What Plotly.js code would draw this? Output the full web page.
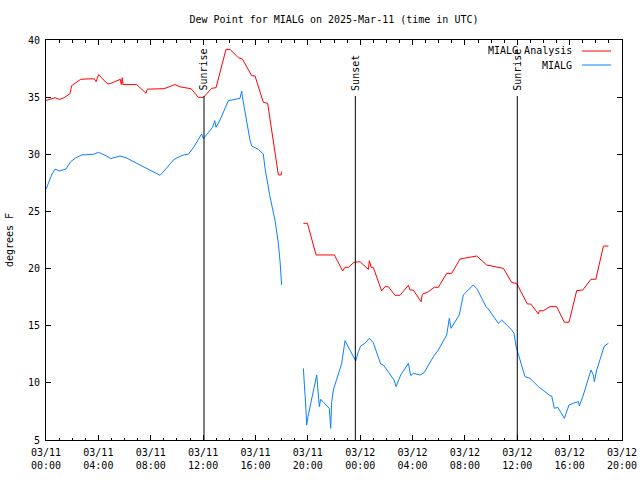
<!DOCTYPE html>
<html>
<head>
<meta charset="utf-8">
<script src="https://cdn.plot.ly/plotly-3.0.1.min.js"></script>
<style>html,body{margin:0;padding:0;background:#fff;}#chart{width:640px;height:480px;}</style>
</head>
<body>
<div id="chart"></div>
<script>
// ---- data (hours after 2025-03-11 00:00 UTC; null = gap) ----
var seriesNames = ["MIALG Analysis", "MIALG"];
var seriesColors = ["#ff0000", "#0a80ff"];

var analysisHours = [0.0,0.44,0.69,1.02,1.38,1.83,1.96,2.29,2.65,3.36,3.69,3.82,4.02,4.28,4.71,4.94,5.40,5.68,5.75,5.83,5.88,6.93,7.64,7.74,9.01,9.85,10.24,11.08,11.64,12.02,12.66,12.99,13.75,14.06,14.69,15.0,15.71,15.97,16.6,16.93,17.75,17.95,18.0,
  18.8,
  19.66,19.97,20.63,22.03,22.66,22.84,23.1,23.53,23.99,24.63,24.7,24.83,25.0,25.64,25.9,26.15,26.66,27.04,27.68,27.81,28.06,28.65,28.75,29.21,29.66,29.97,30.61,30.99,31.63,32.01,32.52,32.9,33.67,34.05,34.48,34.94,35.58,35.95,36.77,37.03,37.61,37.69,37.99,38.5,39.01,39.6,39.95,40.54,41.0,41.63,42.0,42.58,42.96];
var analysisValues = [34.7,34.9,34.95,34.8,34.95,35.3,36.0,36.27,36.56,36.6,36.6,36.35,36.97,36.65,36.15,36.2,36.45,36.56,36.1,36.7,36.1,36.1,35.34,35.7,35.74,36.1,35.9,35.74,34.98,34.98,35.77,35.83,39.18,39.18,38.45,38.34,36.88,36.85,34.55,34.46,28.19,28.19,28.48,
  null,
  23.96,23.96,21.19,21.19,19.79,20.11,20.11,20.55,20.6,19.93,20.69,20.11,20.11,18.04,18.42,18.42,17.66,17.66,18.54,18.12,18.12,17.1,17.75,17.98,18.36,18.36,19.58,19.58,20.84,20.9,21.04,21.1,20.31,20.22,20.08,20.02,18.77,18.71,16.9,16.9,16.03,16.31,16.31,16.67,16.67,15.3,15.3,18.07,18.12,19.06,19.06,21.97,21.97];

var stationHours = [0.0,0.43,0.69,1.02,1.53,1.88,2.29,2.72,3.62,4.02,4.63,4.94,5.65,6.11,6.93,7.94,8.71,9.09,9.73,10.03,10.49,10.87,11.31,11.89,12.02,12.73,12.89,12.99,13.29,13.93,14.57,14.82,14.95,15.0,15.58,15.71,16.22,16.6,16.73,17.11,17.49,17.75,17.88,18.0,
  18.8,
  19.66,19.73,19.86,19.91,20.04,20.68,20.88,20.98,21.64,21.75,21.82,21.95,22.59,22.84,23.17,23.66,23.86,24.04,24.37,24.7,25.0,25.57,25.77,26.23,26.59,26.74,27.1,27.68,27.86,28.06,28.57,28.88,29.59,29.97,30.61,30.81,30.94,31.57,31.88,32.64,32.9,33.61,33.79,34.55,34.81,35.58,35.75,35.91,36.16,36.59,36.97,37.61,38.5,38.63,38.83,39.09,39.6,39.95,40.41,40.67,40.74,41.05,41.63,41.81,41.89,42.07,42.65,42.96];
var stationValues = [26.94,28.19,28.71,28.54,28.71,29.35,29.7,29.94,30.0,30.17,29.85,29.62,29.85,29.7,29.21,28.63,28.16,28.63,29.5,29.7,29.94,30.0,30.67,31.78,31.37,32.36,32.94,32.36,33.0,34.69,34.81,34.9,35.54,35.04,31.25,30.73,30.43,30.03,28.77,26.29,24.25,22.21,20.6,18.56,
  null,
  11.27,10.19,7.63,6.31,7.19,10.69,7.92,8.56,7.77,6.02,8.27,9.38,11.71,13.69,13.02,11.91,12.73,13.23,13.46,13.9,13.51,11.65,11.56,10.84,10.25,9.67,10.69,11.71,10.63,10.84,10.69,10.89,12.29,12.88,14.19,15.65,14.77,15.94,17.69,18.56,18.27,16.67,16.46,15.21,15.5,14.63,14.34,13.17,12.15,10.54,10.4,9.67,8.88,8.85,7.77,7.86,6.9,8.06,8.27,8.36,7.98,8.94,11.13,10.69,10.1,11.13,13.23,13.46];

var eventNames = ["Sunrise", "Sunset", "Sunrise"];
var eventHours = [12.07, 23.63, 36.0];

var titleText = "Dew Point for MIALG on 2025-Mar-11 (time in UTC)";
var yTitle = "degrees F";
var xStart = "2025-03-11 00:00";
var xEnd = "2025-03-12 20:00";
var yMin = 5, yMax = 40;

// ---- helpers ----
var base = Date.UTC(2025, 2, 11, 0, 0, 0);
function toDate(h) {
  return new Date(base + h * 3600000).toISOString().slice(0, 19).replace("T", " ");
}
var FONT = "DejaVu Sans Mono, Liberation Mono, monospace";

var traces = [
  {x: analysisHours.map(toDate), y: analysisValues, name: seriesNames[0], type: "scatter", mode: "lines",
   line: {color: seriesColors[0], width: 1}, connectgaps: false, showlegend: false, hoverinfo: "skip"},
  {x: stationHours.map(toDate), y: stationValues, name: seriesNames[1], type: "scatter", mode: "lines",
   line: {color: seriesColors[1], width: 1}, connectgaps: false, showlegend: false, hoverinfo: "skip"}
];

var shapes = [];
var annotations = [];
eventHours.forEach(function (h, i) {
  shapes.push({type: "line", xref: "x", yref: "y", x0: toDate(h), x1: toDate(h), y0: yMin, y1: 35.1,
               line: {color: "#000", width: 1}});
  annotations.push({xref: "x", yref: "y", x: toDate(h), y: 35.4, text: eventNames[i], textangle: -90,
                    showarrow: false, xanchor: "center", yanchor: "bottom",
                    font: {family: FONT, size: 10, color: "#000"}});
});

// manual legend (text right-aligned, sample line on the right, as in the reference)
var legY = [0.9725, 0.9375];
seriesNames.forEach(function (n, i) {
  annotations.push({xref: "paper", yref: "paper", x: 0.9167, y: legY[i], text: n, showarrow: false,
                    xanchor: "right", yanchor: "middle", font: {family: FONT, size: 10, color: "#000"}});
  shapes.push({type: "line", xref: "paper", yref: "paper", x0: 0.9306, x1: 0.981, y0: legY[i], y1: legY[i],
               line: {color: seriesColors[i], width: 1}});
});

var layout = {
  width: 640, height: 480,
  margin: {l: 46, r: 18, t: 40, b: 40, pad: 0},
  paper_bgcolor: "#fff", plot_bgcolor: "#fff",
  font: {family: FONT, size: 10, color: "#000"},
  title: {text: titleText, x: 0.5, xref: "paper", y: 1 - 19 / 480, yref: "container", yanchor: "middle",
          font: {family: FONT, size: 10, color: "#000"}},
  xaxis: {
    type: "date", range: [xStart, xEnd], tick0: xStart, dtick: 4 * 3600000,
    tickformat: "%m/%d<br>%H:%M", ticks: "inside", ticklen: 5, tickcolor: "#000", tickwidth: 1,
    ticklabelstandoff: 3,
    minor: {dtick: 3600000, ticks: "inside", ticklen: 2.5, tickcolor: "#000", showgrid: false},
    showline: true, linecolor: "#000", linewidth: 1, mirror: "allticks",
    showgrid: false, zeroline: false, tickfont: {family: FONT, size: 10, color: "#000"}
  },
  yaxis: {
    range: [yMin, yMax], tick0: 5, dtick: 5, ticks: "inside", ticklen: 5, tickcolor: "#000",
    ticklabelstandoff: 3,
    showline: true, linecolor: "#000", linewidth: 1, mirror: "allticks",
    showgrid: false, zeroline: false, tickfont: {family: FONT, size: 10, color: "#000"},
    title: {text: yTitle, standoff: 12, font: {family: FONT, size: 10, color: "#000"}}
  },
  shapes: shapes,
  annotations: annotations,
  showlegend: false
};

Plotly.newPlot("chart", traces, layout, {staticPlot: true, displayModeBar: false});
</script>
</body>
</html>
